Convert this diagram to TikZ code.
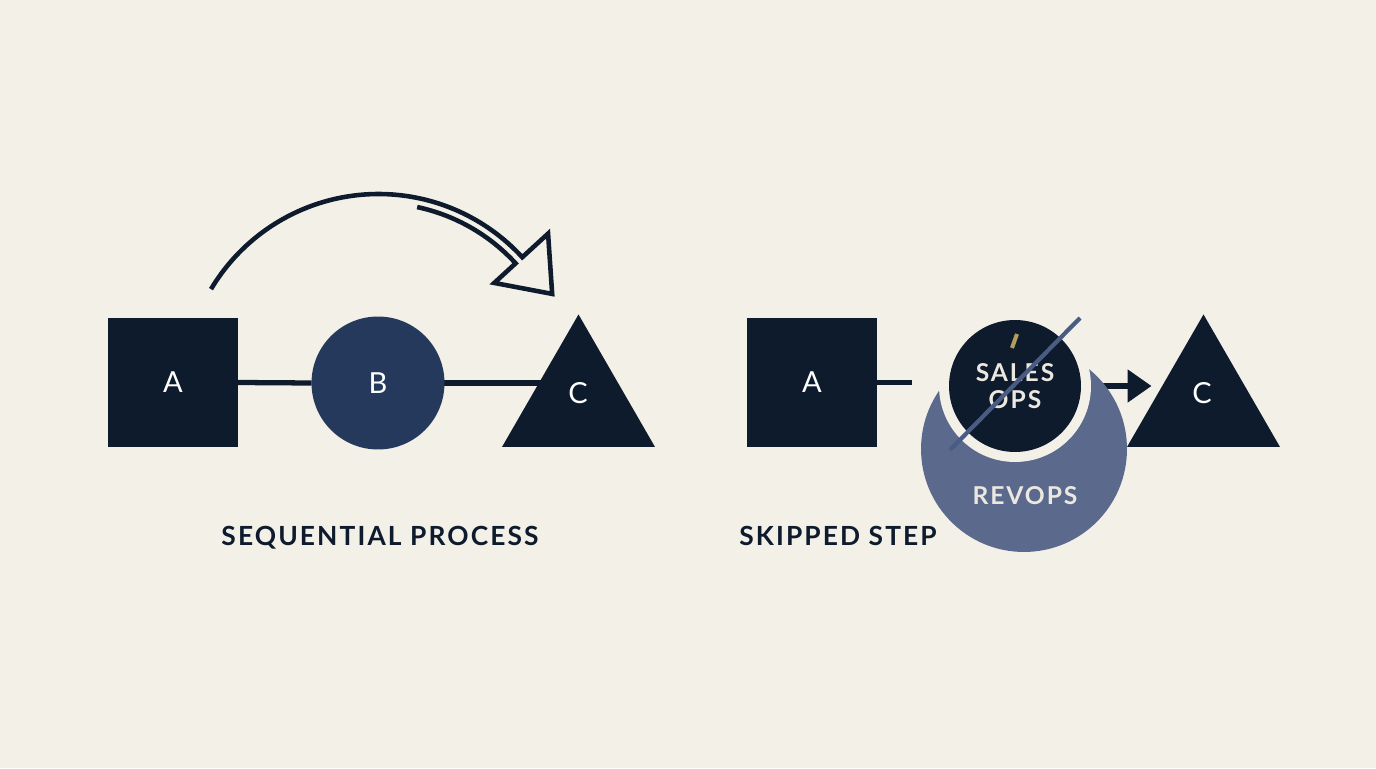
\documentclass[tikz,border=0pt]{standalone}
\usepackage{fontspec}
\setmainfont{Lato}
\newfontfamily\spacedfont[LetterSpace=8]{Lato}
\usetikzlibrary{shapes.geometric,arrows.meta,calc}
\pgfdeclarelayer{bg}
\pgfdeclarelayer{back}
\pgfsetlayers{bg,back,main}
\definecolor{paper}{HTML}{F3F0E8}
\definecolor{navy}{HTML}{0E1B2C}
\definecolor{blueB}{HTML}{24395C}
\definecolor{slate}{HTML}{5A698C}
\definecolor{strikec}{HTML}{4A5B84}
\definecolor{goldc}{HTML}{B59B5E}
\definecolor{softw}{HTML}{ECE8E0}
\begin{document}
\begin{tikzpicture}[x=0.02cm,y=0.02cm,
  sq/.style={rectangle, fill=navy, minimum size=2.6cm, inner sep=0pt, outer sep=0pt},
  blob/.style={circle, inner sep=0pt, outer sep=0pt},
  tri/.style={regular polygon, regular polygon sides=3, fill=navy, minimum size=3.53cm, inner sep=0pt, outer sep=0pt},
  lbl/.style={text=white, font=\fontsize{16.5}{16}\selectfont},
  title/.style={text=navy, font=\spacedfont\bfseries\fontsize{15}{16}\selectfont, anchor=base},
  conn/.style={draw=navy, line width=3pt},
  skip/.style={draw=navy, line width=2.6pt, line join=miter},
]
\begin{pgfonlayer}{bg}
\fill[paper] (0,0) rectangle (1376,768);
\end{pgfonlayer}
\useasboundingbox (0,0) rectangle (1376,768);

% ---------- left panel ----------
\node[sq, lbl] (a1) at (173,385.5) {A};
\node[blob, fill=blueB, minimum size=2.66cm, lbl] (b1) at (378,385) {B};
\node[tri] (c1) at (578.5,365.3) {};
\node[lbl] (tc1) at (578,375) {C};
\coordinate (arcC) at (378.5,379);

\begin{pgfonlayer}{back}
\draw[conn] (a1.east) -- (b1.west);
\draw[conn] (b1.east) -- (c1.center |- b1.east);
\end{pgfonlayer}

\draw[skip] ($(arcC)+(149.2:195)$) arc[start angle=149.2, end angle=42.5, radius=195]
  -- ($(arcC)+(42.5:230)$) -- ($(arcC)+(28.7:198)$) -- ($(arcC)+(42.5:157)$)
  -- ($(arcC)+(42.5:186)$) arc[start angle=42.5, end angle=78, radius=186];

\node[title] (t1) at (380,223) {SEQUENTIAL PROCESS};

% ---------- right panel ----------
\node[sq, lbl] (a2) at (812,385.5) {A};
\coordinate (a2end) at ($(a2.east)+(35,0)$);
\node[blob, fill=slate, minimum size=4.12cm] (rv) at (1024,319) {};
\node[text=softw, font=\spacedfont\bfseries\fontsize{14}{14}\selectfont, anchor=base] (trv) at (1025,263) {REVOPS};
\node[blob, fill=paper, minimum size=3.04cm] (ring) at (1015,382) {};
\node[blob, fill=navy, minimum size=2.64cm, align=center, text=softw,
      font=\spacedfont\bfseries\fontsize{14}{15.4}\selectfont] (so) at (1015,382) {SALES\\OPS};
\node[tri] (c2) at (1203.5,365.3) {};
\node[lbl] (tc2) at (1202,375) {C};

\begin{pgfonlayer}{back}
\draw[conn] (a2.east) -- (a2end);
\draw[conn, -{Triangle[length=0.48cm,width=0.64cm]}] (ring.east) -- ($(c2.center |- so.east)+(-52,0)$);
\end{pgfonlayer}

\draw[strikec, line width=2.4pt] (950,318) -- (1080,450);
\draw[goldc, line width=2.3pt] (1012,420) -- (1017,434);

\node[title] (t2) at (838,223) {SKIPPED STEP};
\end{tikzpicture}
\end{document}
